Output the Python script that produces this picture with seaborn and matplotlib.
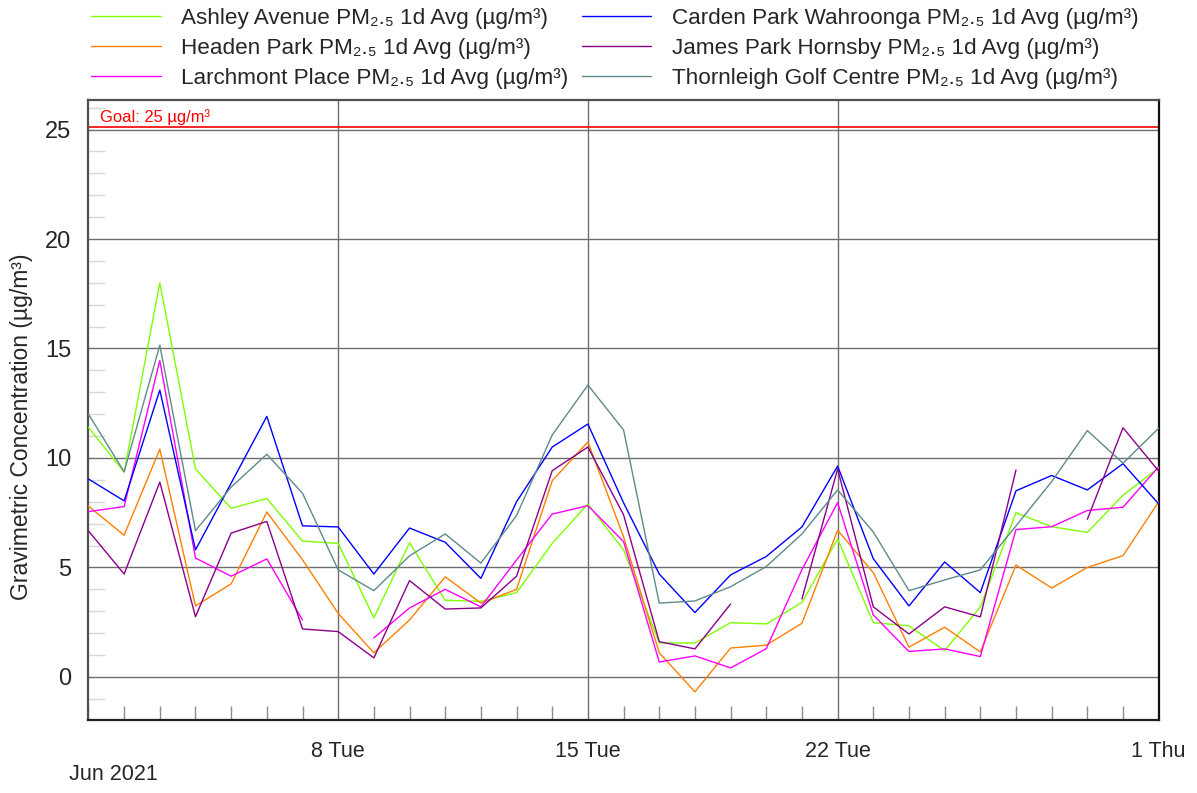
import numpy as np
import pandas as pd
import matplotlib
matplotlib.use("Agg")
import matplotlib.pyplot as plt
import matplotlib.dates as mdates
from matplotlib.ticker import MultipleLocator
import seaborn as sns

dates = pd.date_range("2021-06-01", "2021-07-01", freq="D")

ashley = [11.4, 9.35, 18.0, 9.5, 7.7, 8.15, 6.2, 6.1, 2.7, 6.13, 3.5, 3.45, 3.85, 6.1, 7.9,
          5.8, 1.55, 1.55, 2.48, 2.42, 3.4, 6.3, 2.48, 2.33, 1.2, 3.2, 7.5, 6.86, 6.6, 8.3, 9.55]
carden = [9.04, 8.04, 13.1, 5.8, 8.85, 11.9, 6.9, 6.85, 4.7, 6.8, 6.15, 4.5, 8.0, 10.5, 11.55,
          7.95, 4.7, 2.94, 4.66, 5.5, 6.85, 9.63, 5.4, 3.24, 5.25, 3.85, 8.5, 9.2, 8.54, 9.74, 7.9]
headen = [7.8, 6.47, 10.4, 3.24, 4.25, 7.53, 5.35, 2.9, 1.1, 2.6, 4.57, 3.37, 4.0, 8.96, 10.73,
          6.4, 1.1, -0.68, 1.32, 1.45, 2.45, 6.7, 4.76, 1.36, 2.27, 1.14, 5.11, 4.06, 5.0, 5.54, 8.0]
james = [6.67, 4.7, 8.9, 2.75, 6.57, 7.1, 2.19, 2.07, 0.87, 4.4, 3.1, 3.15, 4.6, 9.42, 10.5,
         7.4, 1.61, 1.28, 3.33, np.nan, 3.56, 9.5, 3.2, 1.96, 3.2, 2.74, 9.45, np.nan, 7.2, 11.38, 9.4]
larchmont = [7.55, 7.78, 14.45, 5.43, 4.6, 5.39, 2.6, np.nan, 1.78, 3.15, 4.0, 3.2, 5.34, 7.44, 7.82,
             6.18, 0.68, 0.96, 0.41, 1.29, 4.9, 7.96, 2.83, 1.16, 1.28, 0.93, 6.73, 6.86, 7.6, 7.75, 9.6]
thornleigh = [12.0, 9.37, 15.15, 6.68, 8.67, 10.17, 8.39, 4.89, 3.94, 5.53, 6.53, 5.2, 7.37, 11.05, 13.33,
              11.28, 3.37, 3.47, 4.12, 5.04, 6.53, 8.54, 6.62, 3.94, 4.43, 4.89, 6.9, 8.92, 11.25, 9.76, 11.36]

stations = ["Ashley Avenue", "Headen Park", "Larchmont Place",
            "Carden Park Wahroonga", "James Park Hornsby", "Thornleigh Golf Centre"]
series = [ashley, headen, larchmont, carden, james, thornleigh]
colors = ["#7fff00", "#ff8000", "#ff00ff", "#0000ff", "#8b008b", "#5f8a8b"]
suffix = " PM\u2082.\u2085 1d Avg (\u00b5g/m\u00b3)"
goal = 25
major_ticks = pd.to_datetime(["2021-06-08", "2021-06-15", "2021-06-22", "2021-07-01"])

frames = []
for name, vals in zip(stations, series):
    v = np.array(vals, dtype=float)
    seg = np.cumsum(np.isnan(v))
    frames.append(pd.DataFrame({"date": dates, "value": v, "station": name + suffix, "seg": seg}))
df = pd.concat(frames, ignore_index=True).dropna(subset=["value"])

sns.set_style("white")
plt.rcParams["font.family"] = ["Liberation Sans", "DejaVu Sans"]
narrow = ["Liberation Sans Narrow", "Liberation Sans", "DejaVu Sans"]

fig = plt.figure(figsize=(11.97, 7.93), dpi=100)
ax = fig.add_axes([0.0739, 0.092, 0.968 - 0.0739, 0.8739 - 0.092])

palette = {name + suffix: c for name, c in zip(stations, colors)}
sns.lineplot(data=df, x="date", y="value", hue="station", units="seg", estimator=None,
             palette=palette, hue_order=[s + suffix for s in stations],
             linewidth=1.0, ax=ax, zorder=3)

ax.set_xlim(dates[0], dates[-1])
ax.set_ylim(-1.97, 26.35)

ax.yaxis.set_major_locator(MultipleLocator(5))
ax.yaxis.set_minor_locator(MultipleLocator(1))
ax.set_xticks(major_ticks)
ax.xaxis.set_major_formatter(mdates.DateFormatter("%-d %a"))
ax.xaxis.set_minor_locator(mdates.DayLocator())
ax.grid(True, which="major", color="#6e6e6e", linewidth=1.0, zorder=1)
ax.set_axisbelow(True)

ax.axhline(goal + 0.1, color="#ff0000", linewidth=1.2, zorder=2)
ax.text(dates[0] + pd.Timedelta(hours=8), goal + 0.55, "Goal: 25 \u00b5g/m\u00b3",
        color="#ff0000", fontsize=11.9, va="center", ha="left")

ax.tick_params(axis="y", which="major", direction="out", length=11, width=1.2,
               color="#303030", labelsize=17, pad=1.5)
ax.tick_params(axis="y", which="minor", direction="in", length=12, width=1.0,
               color="#d8d8d8", left=True)
ax.tick_params(axis="x", which="major", direction="out", length=13, width=1.0,
               color="#6e6e6e", pad=2)
ax.tick_params(axis="x", which="minor", direction="in", length=10, width=1.0,
               color="#8a8a8a", bottom=True)
for lab in ax.get_xticklabels():
    lab.set_family(narrow)
    lab.set_fontsize(15.5)

for side in ["left", "bottom", "right", "top"]:
    ax.spines[side].set_visible(True)
    ax.spines[side].set_linewidth(1.6)
ax.spines["left"].set_color("#505050")
ax.spines["bottom"].set_color("#202020")
ax.spines["right"].set_color("#101010")
ax.spines["top"].set_color("#505050")

ax.set_xlabel("")
ax.set_ylabel("Gravimetric Concentration (\u00b5g/m\u00b3)", fontsize=16.5)
ax.yaxis.set_label_coords(-0.052, 0.4726)

fig.text(0.095, 0.0227, "Jun 2021", fontsize=15.5, ha="center", va="center", family=narrow)

handles, labels = ax.get_legend_handles_labels()
ax.get_legend().remove()
leg = fig.legend(handles, labels, loc="upper left", bbox_to_anchor=(0.059, 1.015),
                 ncol=2, frameon=False, fontsize=16.2, handlelength=3.1,
                 handletextpad=0.9, columnspacing=0.6, labelspacing=0.4)

fig.savefig("out.png", dpi=100)
